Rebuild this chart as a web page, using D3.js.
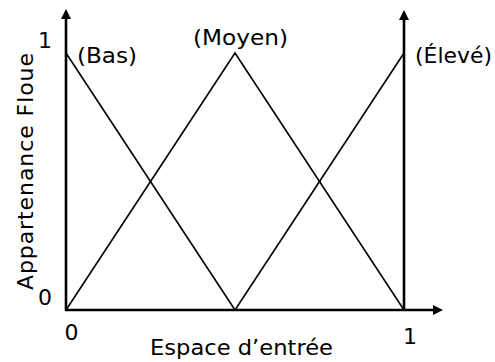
<!DOCTYPE html>
<html><head><meta charset="utf-8">
<script src="https://cdn.jsdelivr.net/npm/d3@7"></script>
<style>body{margin:0;background:#fff}svg{display:block}text{font-family:"DejaVu Sans",Verdana,sans-serif;fill:#000}</style>
</head><body>
<svg id="c" width="495" height="362"></svg>
<script>
const seriesNames = ["(Bas)", "(Moyen)", "(Élevé)"];
const basX = [0, 0.5], basY = [1, 0];
const moyenX = [0, 0.5, 1], moyenY = [0, 1, 0];
const eleveX = [0.5, 1], eleveY = [0, 1];
const xTicks = [0, 1], yTicks = [0, 1];
const xTitle = "Espace d\u2019entrée", yTitle = "Appartenance Floue";

const svg = d3.select("#c");
const x = d3.scaleLinear().domain([0, 1]).range([66, 404]);
const y = d3.scaleLinear().domain([0, 1]).range([310, 53]);
const line = d3.line().x(d => x(d[0])).y(d => y(d[1]));
const series = [d3.zip(basX, basY), d3.zip(moyenX, moyenY), d3.zip(eleveX, eleveY)];

svg.selectAll("path.s").data(series).join("path").attr("class", "s")
  .attr("d", line).attr("fill", "none").attr("stroke", "#000").attr("stroke-width", 1.6);

// axes lines
const ax = svg.append("g").attr("stroke", "#000").attr("stroke-width", 2.6);
ax.append("line").attr("x1", x(0)).attr("x2", x(0)).attr("y1", y(0) + 1).attr("y2", 16);
ax.append("line").attr("x1", x(1)).attr("x2", x(1)).attr("y1", y(0) + 1).attr("y2", 17);
ax.append("line").attr("x1", x(0) - 1).attr("x2", 436).attr("y1", y(0)).attr("y2", y(0));
svg.append("path").attr("d", `M${x(0)},9 L${x(0) - 5},19 L${x(0) + 5},19Z`);
svg.append("path").attr("d", `M${x(1)},10 L${x(1) - 5},20 L${x(1) + 5},20Z`);
svg.append("path").attr("d", `M443,${y(0)} L433,${y(0) - 5} L433,${y(0) + 5}Z`);

// tick labels via d3 axes
const ya = svg.append("g").attr("transform", "translate(52,0)")
  .call(d3.axisLeft(y).tickValues(yTicks).tickSize(0).tickPadding(0).tickFormat(d3.format("d")));
ya.select(".domain").remove();
ya.selectAll("text").attr("font-size", 22).attr("font-family", "DejaVu Sans")
  .attr("text-anchor", "end").attr("x", 0).attr("dy", null).attr("y", -6);
const xa = svg.append("g").attr("transform", "translate(0,340)")
  .call(d3.axisBottom(x).tickValues(xTicks).tickSize(0).tickPadding(0).tickFormat(d3.format("d")));
xa.select(".domain").remove();
xa.selectAll("text").attr("font-size", 22).attr("font-family", "DejaVu Sans")
  .attr("dy", null).attr("y", 0).attr("text-anchor", "start")
  .attr("x", d => d === 0 ? -2 : -1.5).attr("transform", d => d === 1 ? "translate(0,4)" : null);

// series labels
const labelPos = [[77, 63], [193, 45], [415, 63]];
const labelLen = [60, 95, 77];
svg.selectAll("text.lab").data(seriesNames).join("text").attr("class", "lab")
  .attr("x", (d, i) => labelPos[i][0]).attr("y", (d, i) => labelPos[i][1])
  .attr("font-size", 22).attr("textLength", (d, i) => labelLen[i]).attr("lengthAdjust", "spacingAndGlyphs")
  .text(d => d);

svg.append("text").attr("x", 150).attr("y", 355).attr("font-size", 22)
  .attr("textLength", 183).attr("lengthAdjust", "spacingAndGlyphs").text(xTitle);
svg.append("text").attr("transform", "translate(33,290) rotate(-90)").attr("font-size", 22)
  .attr("textLength", 237).attr("lengthAdjust", "spacing").text(yTitle);
</script>
</body></html>
